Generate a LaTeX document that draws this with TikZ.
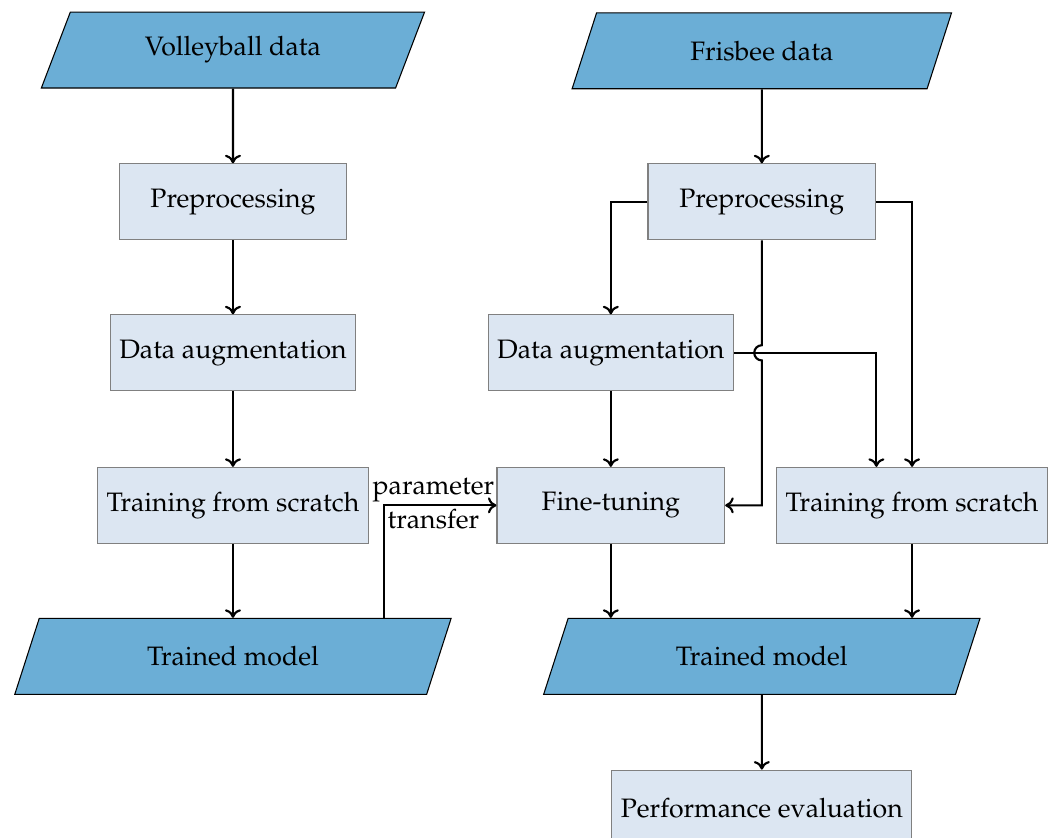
\documentclass[tikz,border=0pt]{standalone}
\usepackage[T1]{fontenc}
\usepackage{mathpazo}
\usetikzlibrary{positioning}
\usetikzlibrary{shapes.geometric}
\usetikzlibrary{arrows.meta}
\usetikzlibrary{calc}

\definecolor{boxfill}{RGB}{220,230,242}
\definecolor{datafill}{RGB}{107,174,214}

\begin{document}
\begin{tikzpicture}[
        box/.style={rectangle, draw=gray, fill=boxfill, minimum width=3cm, minimum height=1cm},
        io/.style={trapezium, trapezium left angle=57, trapezium right angle=123,
            trapezium stretches body, draw, fill=datafill, minimum height=1cm},
        line/.style={thick, -{To[length=3.2pt, width=6pt]}}
    ]
        \useasboundingbox (0,0) rectangle (13.93,-11.04);

        % Define the coordinates of the bends
        \coordinate (bend) at (5.06,-6.66);
        \coordinate (split) at (11.55,-4.65);
        \coordinate (hop) at (10.04,-4.65);

        % Volleyball side
        \node[io, minimum width=5.05cm] (vdata) at (3.07,-0.66) {Volleyball data};
        \node[box] (vpre) at (3.07,-2.66) {Preprocessing};
        \node[box] (vaug) at (3.07,-4.65) {Data augmentation};
        \node[box] (vtrain) at (3.07,-6.66) {Training from scratch};
        \node[io, minimum width=5.75cm] (vmodel) at (3.07,-8.65) {Trained model};

        % Frisbee side
        \node[io, minimum width=5cm] (fdata) at (10.04,-0.67) {Frisbee data};
        \node[box] (fpre) at (10.04,-2.66) {Preprocessing};
        \node[box] (faug) at (8.05,-4.65) {Data augmentation};
        \node[box] (ftune) at (8.05,-6.66) {Fine-tuning};
        \node[box] (ftrain) at (12.02,-6.66) {Training from scratch};
        \node[io, minimum width=5.75cm] (fmodel) at (10.04,-8.65) {Trained model};
        \node[box] (eval) at (10.04,-10.65) {Performance evaluation};

        % Draw the lines
        \draw[line] (vdata) -- (vpre);
        \draw[line] (vpre) -- (vaug);
        \draw[line] (vaug) -- (vtrain);
        \draw[line] (vtrain) -- (vtrain.south |- vmodel.north);
        \draw[line] (vmodel.north -| bend) -- (bend)
            -- node[pos=0.44, above, inner sep=1pt] {parameter}
               node[pos=0.44, below, inner sep=1pt] {transfer} (ftune.west);

        \draw[line] (fdata) -- (fpre);
        \draw[line] (fpre.west) -| (faug.north);
        \draw[line] (fpre.east) -| (ftrain.north);
        \draw[line] (faug.east) -- (split) -- (split |- ftrain.north);
        \draw[line] (fpre.south) -- ($(hop)+(0,0.1)$) arc (90:270:0.1) -- (hop |- ftune) -- (ftune.east);
        \draw[line] (faug) -- (ftune);
        \draw[line] (ftune) -- (ftune.south |- fmodel.north);
        \draw[line] (ftrain) -- (ftrain.south |- fmodel.north);
        \draw[line] (fmodel) -- (eval);
\end{tikzpicture}
\end{document}
